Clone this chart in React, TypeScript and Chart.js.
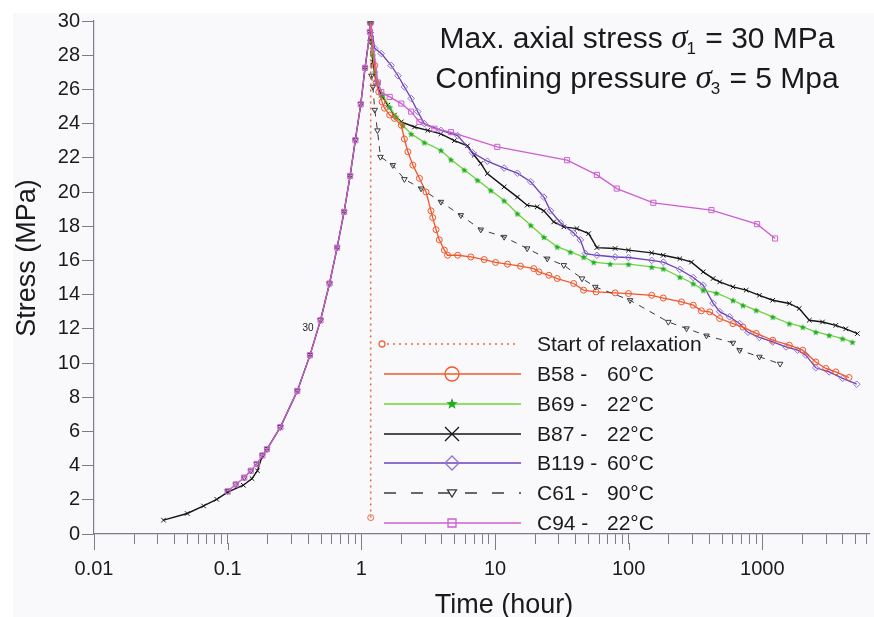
import React, { useEffect, useRef } from 'react';
import { Chart, registerables } from 'chart.js';

Chart.register(...registerables);

// ---------- data ----------
const X_TICK_LABELS = ['0.01', '0.1', '1', '10', '100', '1000'];
const X_MIN = 0.01;
const X_MAX = 6280;
const Y_MIN = 0;
const Y_MAX = 30;
const Y_STEP = 2;

// shared loading path (time h, stress MPa)
const LOADING: [number, number][] = [
  [0.1, 2.5], [0.115, 2.9], [0.133, 3.3], [0.149, 3.7], [0.165, 4.1], [0.182, 4.6],
  [0.197, 4.96], [0.248, 6.25], [0.332, 8.37], [0.413, 10.46], [0.495, 12.5],
  [0.578, 14.65], [0.659, 16.75], [0.743, 18.84], [0.824, 20.94], [0.902, 23.03],
  [0.99, 25.13], [1.066, 27.26], [1.16, 29.36],
];

const B87_EARLY: [number, number][] = [
  [0.0331, 0.81], [0.0498, 1.2], [0.066, 1.64], [0.0828, 2.03], [0.1, 2.45],
  [0.131, 2.85], [0.152, 3.24], [0.167, 3.7],
];

const START: [number, number][] = [[1.175, 0.96], [1.175, 30]];

const B58: [number, number][] = [
  [1.17, 29.9], [1.26, 27.4], [1.29, 26.4], [1.35, 25.85], [1.43, 25.27], [1.49, 24.9],
  [1.63, 24.5], [1.77, 24.3], [1.99, 23.9], [2.1, 23.1], [2.23, 22.35], [2.43, 21.57],
  [2.72, 20.8], [3.05, 20.0], [3.32, 18.9], [3.42, 18.5], [3.62, 17.8], [3.83, 17.2],
  [4.18, 16.6], [4.42, 16.3], [5.25, 16.3], [6.59, 16.2], [8.3, 16.05], [10.1, 15.88],
  [12.4, 15.78], [15.5, 15.66], [19.5, 15.52], [21.3, 15.33], [25.3, 15.13], [29.2, 14.94],
  [38.8, 14.65], [46, 14.26], [57, 14.16], [79.2, 14.1], [99.7, 14.06], [148.6, 13.96],
  [181.5, 13.8], [248.5, 13.57], [304, 13.38], [350, 13.05], [404, 12.99], [480, 12.6],
  [603, 12.3], [716, 12.1], [900, 11.73], [1196, 11.33], [1592, 11.04], [2004, 10.75],
  [2512, 10.06], [2985, 9.68], [3545, 9.48], [4450, 9.15],
];

const B69: [number, number][] = [
  [1.17, 29.9], [1.22, 28.0], [1.27, 27.0], [1.33, 26.4], [1.45, 25.66], [1.63, 24.97],
  [1.82, 24.4], [2.04, 23.9], [2.36, 23.4], [2.96, 22.9], [3.94, 22.44], [4.68, 21.9],
  [5.89, 21.3], [7.39, 20.7], [9.29, 20.1], [11.7, 19.5], [14.7, 18.74], [18.5, 18.06],
  [23.2, 17.37], [29.2, 16.8], [36.6, 16.5], [46, 16.2], [54.7, 15.9], [72.7, 15.8],
  [99.7, 15.78], [148.6, 15.62], [181.5, 15.52], [241.5, 15.03], [304, 14.65], [361, 14.26],
  [453, 14.1], [603, 13.67], [716, 13.38], [900, 13.09], [1196, 12.7], [1592, 12.31],
  [2004, 12.11], [2512, 11.82], [3163, 11.63], [3982, 11.43], [4720, 11.23],
];

const B87: [number, number][] = [
  [1.17, 29.9], [1.19, 29.2], [1.22, 27.6], [1.29, 26.4], [1.41, 25.66], [1.58, 25.08],
  [1.77, 24.5], [1.99, 24.1], [2.5, 23.8], [3.14, 23.6], [3.94, 23.4], [4.96, 23.0],
  [6.23, 22.7], [6.99, 22.15], [7.83, 21.67], [8.76, 21.08], [11.7, 20.3], [14.7, 19.7],
  [17.4, 19.23], [20.7, 19.13], [23.2, 18.9], [27.5, 18.25], [32.7, 17.96], [41, 17.86],
  [50.2, 17.57], [57.8, 16.75], [79.2, 16.7], [99.7, 16.6], [148.6, 16.44], [181.5, 16.3],
  [241.5, 16.1], [295, 15.9], [361, 15.33], [428, 14.94], [480, 14.74], [603, 14.45],
  [757, 14.26], [951, 13.96], [1196, 13.67], [1592, 13.48], [1888, 13.19], [2244, 12.5],
  [2820, 12.4], [3545, 12.2], [4207, 12.0], [5144, 11.72],
];

const B119: [number, number][] = [
  [1.17, 29.9], [1.26, 28.4], [1.41, 28.1], [1.67, 27.4], [1.88, 26.8], [2.1, 26.15],
  [2.36, 25.47], [2.64, 24.7], [2.96, 24.0], [3.94, 23.6], [5.25, 23.3], [6.79, 22.3],
  [8.76, 21.8], [11.7, 21.4], [14.7, 21.1], [18.5, 20.6], [23.2, 19.7], [26, 18.9],
  [30.9, 18.2], [38.8, 17.6], [43.5, 17.2], [47.4, 16.4], [57.8, 16.3], [79.2, 16.2],
  [99.7, 16.17], [148.6, 16.0], [181.5, 15.9], [241.5, 15.47], [304, 15.0], [361, 14.55],
  [428, 13.5], [480, 13.0], [569, 12.7], [676, 12.3], [780, 11.8], [951, 11.5],
  [1196, 11.23], [1503, 10.94], [1836, 10.75], [2118, 10.46], [2512, 9.72], [3163, 9.48],
  [3982, 9.1], [5084, 8.76],
];

const C61: [number, number][] = [
  [1.17, 29.9], [1.17, 28.8], [1.19, 26.8], [1.22, 26.15], [1.26, 24.8], [1.32, 23.6],
  [1.39, 22.05], [1.72, 21.57], [2.1, 20.75], [2.8, 20.2], [3.94, 19.42], [5.55, 18.64],
  [7.83, 17.8], [11.7, 17.37], [17.4, 16.7], [24.6, 16.1], [32.7, 15.72], [44.8, 14.94],
  [56.3, 14.45], [102.4, 13.67], [198, 12.4], [271, 12.02], [382, 11.6], [603, 11.18],
  [676, 10.75], [951, 10.36], [1358, 9.95],
];

const C94: [number, number][] = [
  [1.17, 29.9], [1.33, 26.4], [1.41, 25.85], [1.63, 25.56], [1.99, 25.17], [2.36, 24.7],
  [2.72, 24.1], [3.52, 23.7], [4.68, 23.5], [10.4, 22.64], [34.6, 21.86], [57.8, 21.0],
  [81.5, 20.2], [153, 19.37], [416, 18.94], [914, 18.12], [1245, 17.28],
];

const LEGEND_NAMES = ['Start of relaxation', 'B58 -', 'B69 -', 'B87 -', 'B119 -', 'C61 -', 'C94 -'];
const LEGEND_TEMPS = ['', '60°C', '22°C', '22°C', '60°C', '90°C', '22°C'];

// ---------- styles ----------
const AXIS = '#7c7c8c';
const TXT = '#1a1a1a';
const SANS = '"Liberation Sans", Arial, sans-serif';
const C_START = '#f06a3c';
const C_B58 = '#f2572a';
const C_B69 = '#6cd33c';
const C_B69_MK = '#1fae1f';
const C_B87 = '#141414';
const C_B119 = '#6a42b8';
const C_B119_MK = '#9270d6';
const C_C61 = '#3a3a3a';
const C_C94 = '#cc5fd0';

const toXY = (arr: [number, number][]) => arr.map(([x, y]) => ({ x, y }));

function starPath(ctx: CanvasRenderingContext2D, x: number, y: number, R: number) {
  const r = R * 0.42;
  ctx.beginPath();
  for (let i = 0; i < 10; i++) {
    const rad = i % 2 === 0 ? R : r;
    const a = -Math.PI / 2 + (i * Math.PI) / 5;
    const px = x + rad * Math.cos(a);
    const py = y + rad * Math.sin(a);
    if (i === 0) ctx.moveTo(px, py);
    else ctx.lineTo(px, py);
  }
  ctx.closePath();
}

function makeStarCanvas(R: number, color: string) {
  const c = document.createElement('canvas');
  const s = Math.ceil(R * 2 + 2);
  c.width = s;
  c.height = s;
  const g = c.getContext('2d')!;
  g.fillStyle = color;
  starPath(g, s / 2, s / 2 + 0.5, R);
  g.fill();
  return c;
}

function drawMarker(ctx: CanvasRenderingContext2D, kind: string, x: number, y: number, r: number, color: string) {
  ctx.save();
  ctx.strokeStyle = color;
  ctx.fillStyle = color;
  ctx.lineWidth = 1.3;
  ctx.beginPath();
  if (kind === 'circle') {
    ctx.arc(x, y, r, 0, Math.PI * 2);
    ctx.stroke();
  } else if (kind === 'star') {
    starPath(ctx, x, y, r);
    ctx.fill();
  } else if (kind === 'x') {
    ctx.moveTo(x - r, y - r); ctx.lineTo(x + r, y + r);
    ctx.moveTo(x + r, y - r); ctx.lineTo(x - r, y + r);
    ctx.stroke();
  } else if (kind === 'diamond') {
    ctx.moveTo(x, y - r); ctx.lineTo(x + r, y); ctx.lineTo(x, y + r); ctx.lineTo(x - r, y); ctx.closePath();
    ctx.stroke();
  } else if (kind === 'tri') {
    ctx.moveTo(x - r, y - r * 0.7); ctx.lineTo(x + r, y - r * 0.7); ctx.lineTo(x, y + r * 0.9); ctx.closePath();
    ctx.stroke();
  } else if (kind === 'square') {
    ctx.rect(x - r, y - r, 2 * r, 2 * r);
    ctx.stroke();
  }
  ctx.restore();
}

const bgPlugin = {
  id: 'bgPlugin',
  beforeDraw(chart: any) {
    const ctx = chart.ctx as CanvasRenderingContext2D;
    ctx.save();
    ctx.fillStyle = '#ffffff';
    ctx.fillRect(0, 0, chart.width, chart.height);
    ctx.fillStyle = '#f9f9fb';
    ctx.fillRect(13, 13, chart.width - 13, chart.height - 13);
    ctx.restore();
  },
};

const decorPlugin = {
  id: 'decorPlugin',
  afterDraw(chart: any) {
    const ctx = chart.ctx as CanvasRenderingContext2D;
    const xs = chart.scales.x;
    const ca = chart.chartArea;
    ctx.save();
    // longer major ticks on the x axis
    ctx.strokeStyle = AXIS;
    ctx.lineWidth = 1;
    ctx.beginPath();
    for (const l of X_TICK_LABELS) {
      const px = Math.round(xs.getPixelForValue(parseFloat(l))) + 0.5;
      ctx.moveTo(px, ca.bottom + 9);
      ctx.lineTo(px, ca.bottom + 16);
    }
    ctx.stroke();

    // axis titles
    ctx.fillStyle = TXT;
    ctx.font = `27px ${SANS}`;
    ctx.textAlign = 'center';
    ctx.textBaseline = 'alphabetic';
    ctx.fillText('Time (hour)', 504, 613);
    ctx.save();
    ctx.translate(35, 258);
    ctx.rotate(-Math.PI / 2);
    ctx.fillText('Stress (MPa)', 0, 0);
    ctx.restore();

    // annotation title
    const lines = [
      { pre: 'Max. axial stress ', sub: '1', post: ' = 30 MPa', base: 48 },
      { pre: 'Confining pressure ', sub: '3', post: ' = 5 Mpa', base: 88 },
    ];
    const fMain = `30px ${SANS}`;
    const fSig = `italic 33px "Liberation Serif", serif`;
    const fSub = `17px ${SANS}`;
    ctx.textAlign = 'left';
    for (const ln of lines) {
      ctx.font = fMain;
      const w1 = ctx.measureText(ln.pre).width;
      const w3 = ctx.measureText(ln.post).width;
      ctx.font = fSig;
      const w2 = ctx.measureText('σ').width;
      ctx.font = fSub;
      const ws = ctx.measureText(ln.sub).width;
      const total = w1 + w2 + ws + w3;
      let x = 637 - total / 2;
      ctx.font = fMain;
      ctx.fillText(ln.pre, x, ln.base);
      x += w1;
      ctx.font = fSig;
      ctx.fillText('σ', x, ln.base);
      x += w2 - 1;
      ctx.font = fSub;
      ctx.fillText(ln.sub, x, ln.base + 6);
      x += ws + 1;
      ctx.font = fMain;
      ctx.fillText(ln.post, x, ln.base);
    }

    // stray small label
    ctx.font = `10px ${SANS}`;
    ctx.textAlign = 'center';
    ctx.textBaseline = 'middle';
    ctx.fillText('30', 308, 328);

    // legend
    const rows = [344, 374, 404, 434, 463, 493, 523];
    const x0 = 384, x1 = 521, xm = 452;
    ctx.strokeStyle = C_START;
    ctx.lineWidth = 1.6;
    ctx.setLineDash([2, 4]);
    ctx.beginPath();
    ctx.moveTo(387, rows[0]); ctx.lineTo(519, rows[0]);
    ctx.stroke();
    ctx.setLineDash([]);
    drawMarker(ctx, 'circle', 382, rows[0], 3, C_START);
    const specs = [
      { c: C_B58, mk: 'circle', mc: C_B58, r: 7, dash: [] as number[] },
      { c: C_B69, mk: 'star', mc: C_B69_MK, r: 6, dash: [] },
      { c: C_B87, mk: 'x', mc: C_B87, r: 7, dash: [] },
      { c: C_B119, mk: 'diamond', mc: C_B119_MK, r: 7, dash: [] },
      { c: C_C61, mk: 'tri', mc: C_C61, r: 4.5, dash: [12, 15] },
      { c: C_C94, mk: 'square', mc: C_C94, r: 4, dash: [] },
    ];
    specs.forEach((s, i) => {
      const y = rows[i + 1];
      ctx.strokeStyle = s.c;
      ctx.lineWidth = 1.5;
      ctx.setLineDash(s.dash);
      ctx.beginPath();
      ctx.moveTo(x0, y); ctx.lineTo(x1, y);
      ctx.stroke();
      ctx.setLineDash([]);
      drawMarker(ctx, s.mk, xm, y, s.r, s.mc);
    });
    ctx.fillStyle = TXT;
    ctx.font = `21px ${SANS}`;
    ctx.textAlign = 'left';
    ctx.textBaseline = 'middle';
    LEGEND_NAMES.forEach((n, i) => {
      ctx.fillText(n, 537, rows[i] + 1);
      if (LEGEND_TEMPS[i]) ctx.fillText(LEGEND_TEMPS[i], 607, rows[i] + 1);
    });
    ctx.restore();
  },
};

export default function App() {
  const ref = useRef<HTMLCanvasElement | null>(null);

  useEffect(() => {
    if (!ref.current) return;
    const star = makeStarCanvas(3.6, C_B69_MK);
    const b87Data = [...B87_EARLY, ...LOADING.filter((p) => p[0] > 0.17), ...B87];
    const b87Radius = b87Data.map((p) => (p[0] > 0.17 && p[0] < 1.17 ? 0 : 3.2));

    const line = (label: string, data: [number, number][], color: string, extra: any) => ({
      label,
      data: toXY(data),
      borderColor: color,
      backgroundColor: 'rgba(0,0,0,0)',
      borderWidth: 1.3,
      pointRadius: 3,
      pointBorderWidth: 1,
      pointBorderColor: color,
      pointBackgroundColor: 'rgba(0,0,0,0)',
      tension: 0,
      ...extra,
    });

    const chart = new Chart(ref.current, {
      type: 'line',
      data: {
        datasets: [
          line('Start of relaxation', START, C_START, {
            borderDash: [2, 4], borderWidth: 1.6, pointRadius: [3, 0], pointStyle: 'circle', order: 0,
          }),
          line('B58', B58, C_B58, { pointStyle: 'circle', pointRadius: 3, order: 3 }),
          line('B69', B69, C_B69, { pointStyle: star, pointRadius: 3, order: 4 }),
          line('B87', b87Data, C_B87, { pointStyle: 'crossRot', pointRadius: b87Radius, borderWidth: 1.4, order: 6 }),
          line('B119', B119, C_B119, { pointStyle: 'rectRot', pointRadius: 3.3, pointBorderColor: C_B119_MK, order: 5 }),
          line('C61', [...LOADING, ...C61], C_C61, {
            pointStyle: 'triangle', pointRotation: 180, pointRadius: 3.2, borderDash: [6, 6], borderWidth: 1, order: 2,
          }),
          line('C94', [...LOADING, ...C94], C_C94, { pointStyle: 'rect', pointRadius: 3.6, order: 1 }),
        ],
      },
      options: {
        responsive: false,
        devicePixelRatio: 1,
        animation: false,
        layout: { padding: { top: 21, right: 1, left: 0, bottom: 0 } },
        plugins: { legend: { display: false }, tooltip: { enabled: false }, title: { display: false } },
        scales: {
          x: {
            type: 'logarithmic',
            bounds: 'data',
            min: X_MIN,
            max: X_MAX,
            afterBuildTicks: (scale: any) => {
              const ticks: any[] = [];
              for (let e = -2; e <= 3; e++) {
                for (let m = 1; m <= 9; m++) {
                  const v = m * Math.pow(10, e);
                  if (v >= X_MIN && v <= X_MAX) ticks.push({ value: v });
                }
              }
              scale.ticks = ticks;
              scale.min = X_MIN;
              scale.max = X_MAX;
            },
            afterFit: (scale: any) => {
              scale.height = 83;
              scale.paddingRight = 0;
              scale.paddingLeft = 0;
            },
            ticks: {
              autoSkip: false,
              maxRotation: 0,
              minRotation: 0,
              padding: 13,
              color: TXT,
              font: { size: 20, family: SANS },
              callback: (v: any) => {
                const s = X_TICK_LABELS.find((l) => Math.abs(parseFloat(l) - Number(v)) < 1e-9 * Math.max(1, Number(v)));
                return s ?? '';
              },
            },
            grid: { display: true, drawOnChartArea: false, drawTicks: true, tickLength: 10, color: AXIS, tickColor: AXIS, lineWidth: 1 },
            border: { display: true, color: AXIS, width: 1.2 },
          },
          y: {
            type: 'linear',
            min: Y_MIN,
            max: Y_MAX,
            afterFit: (scale: any) => { scale.width = 94; },
            ticks: {
              stepSize: Y_STEP,
              padding: 2,
              color: TXT,
              font: { size: 20, family: SANS },
            },
            grid: { display: true, drawOnChartArea: false, drawTicks: true, tickLength: 12, color: AXIS, tickColor: AXIS, lineWidth: 1 },
            border: { display: true, color: AXIS, width: 1.2 },
          },
        },
      },
      plugins: [bgPlugin, decorPlugin],
    });
    return () => chart.destroy();
  }, []);

  return (
    <div style={{ position: 'absolute', left: 0, top: 0, width: 874, height: 617 }}>
      <canvas ref={ref} width={874} height={617} style={{ display: 'block', width: 874, height: 617 }} />
    </div>
  );
}
